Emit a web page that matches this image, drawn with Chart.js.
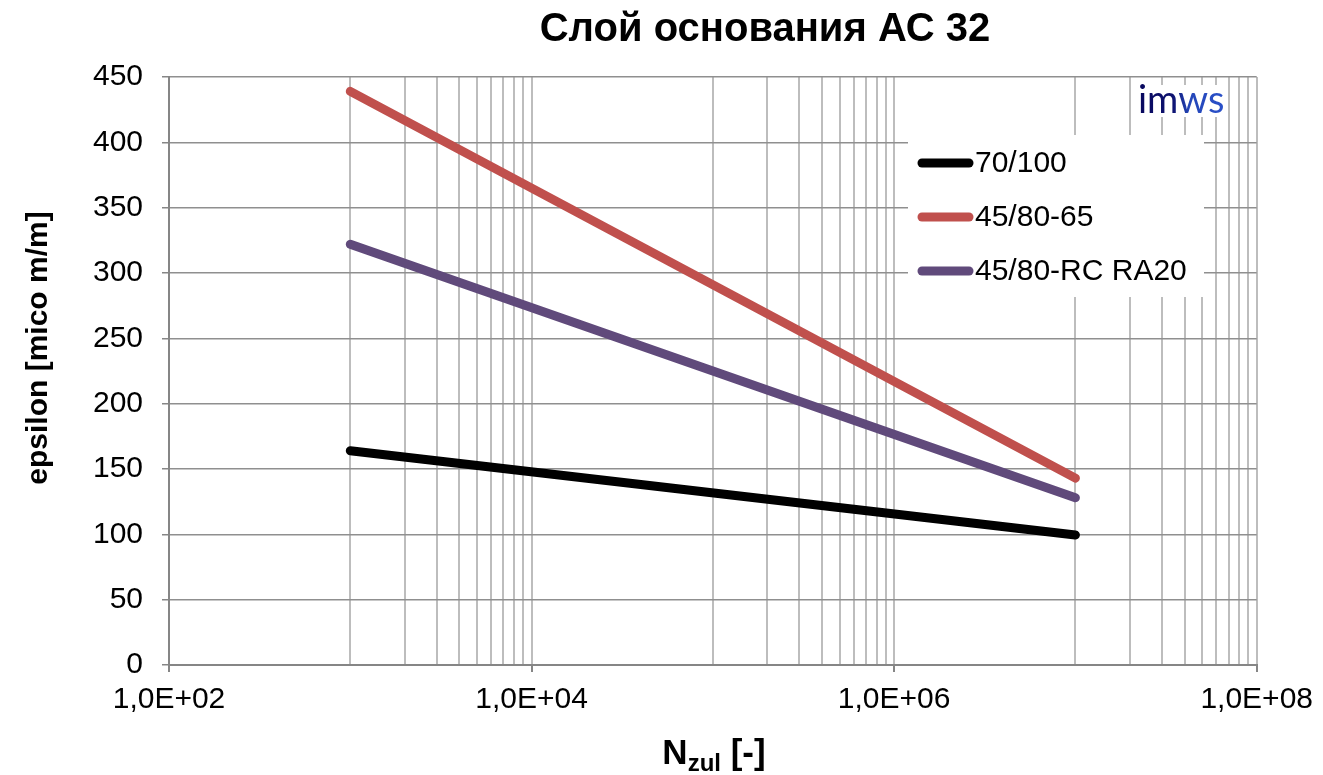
<!DOCTYPE html>
<html>
<head>
<meta charset="utf-8">
<script src="https://cdn.jsdelivr.net/npm/chart.js@4.4.1/dist/chart.umd.min.js"></script>
<style>
  html, body { margin: 0; padding: 0; background: #fff; }
  #wrap { width: 1323px; height: 775px; }
</style>
</head>
<body>
<div id="wrap"><canvas id="chart" width="1323" height="775"></canvas></div>
<script>
// values
const cycles = [1e3, 1e7];
const eps70_100 = [164, 99.5];
const eps45_80_65 = [439, 143];
const eps45_80_RC = [322, 128];
const seriesNames = ["70/100", "45/80-65", "45/80-RC RA20"];
const seriesColors = ["#000000", "#c0504d", "#604a7b"];

// x axis: labelled decades and the grid lines between them
const xLabelTicks = [1e2, 1e4, 1e6, 1e8];
const xGridTicks = [
  1e2,
  1e3, 2e3, 3e3, 4e3, 5e3, 6e3, 7e3, 8e3, 9e3,
  1e4,
  1e5, 2e5, 3e5, 4e5, 5e5, 6e5, 7e5, 8e5, 9e5,
  1e6,
  1e7, 2e7, 3e7, 4e7, 5e7, 6e7, 7e7, 8e7, 9e7,
  1e8,
];

const FONT = '"Liberation Sans", Arial, sans-serif';

const toPoints = (ys) => ys.map((y, i) => ({ x: cycles[i], y: y }));

const makeSet = (idx, ys) => ({
  label: seriesNames[idx],
  data: toPoints(ys),
  showLine: true,
  borderColor: seriesColors[idx],
  backgroundColor: seriesColors[idx],
  borderWidth: 9,
  borderCapStyle: "round",
  pointRadius: 0,
  fill: false,
});

const fmtExp = (v) => {
  const e = Math.round(Math.log10(v));
  return "1,0E+" + (e < 10 ? "0" + e : e);
};

const decor = {
  id: "decor",
  afterDraw(chart) {
    const ctx = chart.ctx;
    ctx.save();

    // title
    ctx.fillStyle = "#000";
    ctx.font = "bold 40px " + FONT;
    ctx.textAlign = "center";
    ctx.textBaseline = "alphabetic";
    ctx.fillText("Слой основания АС 32", 765, 41);

    // y axis title
    ctx.save();
    ctx.translate(47, 348);
    ctx.rotate(-Math.PI / 2);
    ctx.font = "bold 30px " + FONT;
    ctx.fillText("epsilon [mico m/m]", 0, 0);
    ctx.restore();

    // x axis title with subscript
    ctx.textAlign = "left";
    const big = "bold 35px " + FONT;
    const small = "bold 24px " + FONT;
    ctx.font = big;
    const wN = ctx.measureText("N").width;
    const wRest = ctx.measureText(" [-]").width;
    ctx.font = small;
    const wSub = ctx.measureText("zul").width;
    let x0 = 714 - (wN + wSub + wRest) / 2;
    ctx.font = big;
    ctx.fillText("N", x0, 764);
    ctx.font = small;
    ctx.fillText("zul", x0 + wN, 771);
    ctx.font = big;
    ctx.fillText(" [-]", x0 + wN + wSub, 764);

    // legend
    ctx.fillStyle = "#fff";
    ctx.fillRect(908, 135, 296, 162);
    ctx.font = "30px " + FONT;
    ctx.textBaseline = "middle";
    chart.data.datasets.forEach((ds, i) => {
      const y = 163 + i * 54;
      ctx.strokeStyle = ds.borderColor;
      ctx.lineWidth = 9;
      ctx.lineCap = "round";
      ctx.beginPath();
      ctx.moveTo(922, y);
      ctx.lineTo(969, y);
      ctx.stroke();
      ctx.fillStyle = "#000";
      ctx.fillText(ds.label, 975, y + 1);
    });

    // logo
    ctx.fillStyle = "#fff";
    ctx.fillRect(1132, 85, 92, 32);
    const g = ctx.createLinearGradient(1140, 0, 1222, 0);
    g.addColorStop(0, "#08085e");
    g.addColorStop(0.4, "#0e1270");
    g.addColorStop(0.6, "#2446b8");
    g.addColorStop(1, "#2a50c8");
    ctx.fillStyle = g;
    ctx.font = "400 38px Lato, " + FONT;
    ctx.textBaseline = "alphabetic";
    ctx.fillText("imws", 1138, 113);

    ctx.restore();
  },
};

new Chart(document.getElementById("chart"), {
  type: "scatter",
  data: {
    datasets: [
      makeSet(0, eps70_100),
      makeSet(1, eps45_80_65),
      makeSet(2, eps45_80_RC),
    ],
  },
  options: {
    responsive: false,
    animation: false,
    layout: { padding: { left: 0, top: 77, right: 63, bottom: 0 } },
    plugins: {
      legend: { display: false },
      title: { display: false },
      tooltip: { enabled: false },
    },
    scales: {
      x: {
        type: "logarithmic",
        min: 1e2,
        max: 1e8,
        afterBuildTicks: (scale) => {
          scale.ticks = xGridTicks.map((v) => ({ value: v }));
        },
        afterFit: (scale) => {
          scale.height = 110;
        },
        border: { color: "#868686", width: 2 },
        grid: {
          color: "#bdbdbd",
          lineWidth: 2,
          tickLength: 7,
          tickColor: (c) =>
            xLabelTicks.includes(c.tick.value) ? "#868686" : "rgba(0,0,0,0)",
        },
        ticks: {
          autoSkip: false,
          maxRotation: 0,
          padding: 10,
          color: "#000",
          font: { family: FONT, size: 30 },
          callback: (v) => (xLabelTicks.includes(v) ? fmtExp(v) : ""),
        },
      },
      y: {
        min: 0,
        max: 450,
        afterFit: (scale) => {
          scale.width = 169;
        },
        border: { color: "#868686", width: 2 },
        grid: {
          color: "#8f8f8f",
          lineWidth: 1.5,
          tickLength: 7,
          tickColor: "#868686",
        },
        ticks: {
          stepSize: 50,
          padding: 19,
          color: "#000",
          font: { family: FONT, size: 30 },
        },
      },
    },
  },
  plugins: [decor],
});
</script>
</body>
</html>
